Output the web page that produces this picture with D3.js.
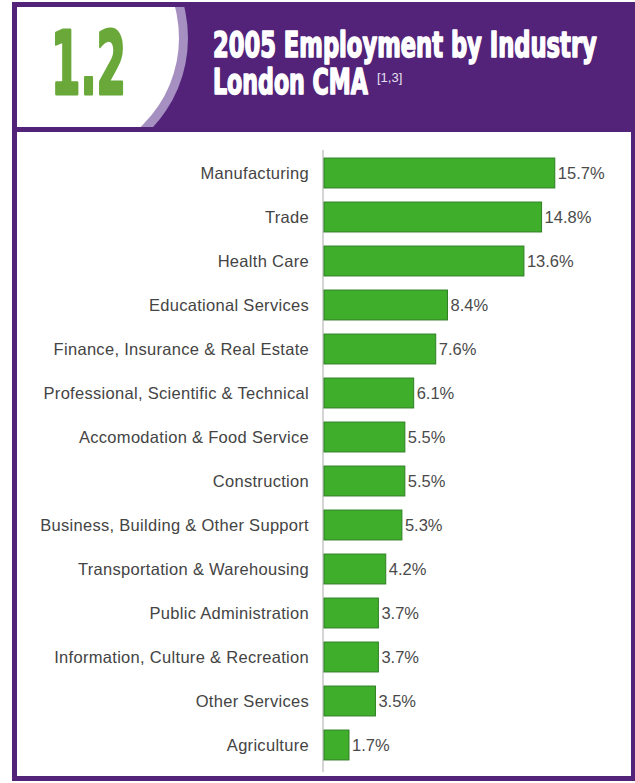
<!DOCTYPE html>
<html>
<head>
<meta charset="utf-8">
<script src="https://cdn.jsdelivr.net/npm/d3@7"></script>
<style>
  body { margin: 0; background: #fff; }
  svg { display: block; }
</style>
</head>
<body>
<div id="chart"></div>
<script>
const industries = [
  'Manufacturing', 'Trade', 'Health Care', 'Educational Services',
  'Finance, Insurance & Real Estate', 'Professional, Scientific & Technical',
  'Accomodation & Food Service', 'Construction', 'Business, Building & Other Support',
  'Transportation & Warehousing', 'Public Administration',
  'Information, Culture & Recreation', 'Other Services', 'Agriculture'
];
const shares = [15.7, 14.8, 13.6, 8.4, 7.6, 6.1, 5.5, 5.5, 5.3, 4.2, 3.7, 3.7, 3.5, 1.7];
const figureNumber = '1.2';
const titleLines = ['2005 Employment by Industry', 'London CMA'];
const footnote = '[1,3]';

const W = 635;
const H = 783;
const purple = '#53237a';
const lavender = '#a68fc1';
const green = '#3fae2b';
const condensed = '"DejaVu Sans Condensed", "DejaVu Sans", sans-serif';
const sans = '"Liberation Sans", Arial, sans-serif';

const svg = d3.select('#chart')
  .append('svg')
  .attr('width', W)
  .attr('height', H);

// frame + header band
svg.append('rect')
  .attr('x', 12).attr('y', 2)
  .attr('width', 623).attr('height', 779)
  .attr('fill', purple);

svg.append('rect')
  .attr('x', 17).attr('y', 132)
  .attr('width', 614).attr('height', 644)
  .attr('fill', '#fff');

// the rounded white panel with the figure number
svg.append('clipPath')
  .attr('id', 'panelClip')
  .append('rect')
  .attr('x', 17).attr('y', 7)
  .attr('width', 200).attr('height', 120);

const panel = svg.append('g').attr('clip-path', 'url(#panelClip)');
panel.append('circle')
  .attr('cx', 57).attr('cy', 38).attr('r', 131)
  .attr('fill', lavender);
panel.append('circle')
  .attr('cx', 57).attr('cy', 38).attr('r', 122)
  .attr('fill', '#fff');

// squeeze a heavy text horizontally so it spans the wanted width
const squeezed = (str, x0, y0, width, size, color, strokeW) => {
  const t = svg.append('text')
    .attr('font-family', condensed)
    .attr('font-weight', 'bold')
    .attr('font-size', size)
    .attr('fill', color)
    .attr('stroke', color)
    .attr('stroke-width', strokeW)
    .attr('stroke-linejoin', 'round')
    .text(str);
  const natural = t.node().getComputedTextLength();
  t.attr('transform', `translate(${x0},${y0}) scale(${width / natural},1)`);
  return t;
};

squeezed(figureNumber, 51, 94, 75, 88, '#6aa83a', 3);
squeezed(titleLines[0], 213, 57, 384, 35, '#fff', 1.6);
squeezed(titleLines[1], 213, 94, 155, 35, '#fff', 1.6);

svg.append('text')
  .attr('x', 377).attr('y', 82)
  .attr('font-family', sans)
  .attr('font-size', 13)
  .attr('fill', '#e6e0ee')
  .text(footnote);

// bars
const x = d3.scaleLinear()
  .domain([0, 16])
  .range([324, 324 + 16 * 14.7]);

const y = d3.scaleBand()
  .domain(industries)
  .range([151, 767])
  .paddingInner(0.32)
  .paddingOuter(0.16);

svg.append('line')
  .attr('x1', x(0) - 1).attr('x2', x(0) - 1)
  .attr('y1', 150).attr('y2', 772)
  .attr('stroke', '#aaa')
  .attr('stroke-width', 1);

const rows = svg.selectAll('.row')
  .data(industries)
  .enter()
  .append('g')
  .attr('class', 'row');

rows.append('rect')
  .attr('x', x(0))
  .attr('y', (d) => y(d))
  .attr('width', (d, i) => x(shares[i]) - x(0))
  .attr('height', y.bandwidth())
  .attr('fill', green)
  .attr('stroke', '#2f7f24')
  .attr('stroke-width', 1);

rows.append('text')
  .attr('x', 309)
  .attr('y', (d) => y(d) + y.bandwidth() / 2)
  .attr('dy', '0.36em')
  .attr('text-anchor', 'end')
  .attr('font-family', sans)
  .attr('font-size', 16.5)
  .attr('letter-spacing', 0.3)
  .attr('fill', '#444')
  .text((d) => d);

rows.append('text')
  .attr('x', (d, i) => x(shares[i]) + 3)
  .attr('y', (d) => y(d) + y.bandwidth() / 2)
  .attr('dy', '0.36em')
  .attr('font-family', sans)
  .attr('font-size', 16.5)
  .attr('fill', '#4a4a4a')
  .text((d, i) => `${shares[i]}%`);
</script>
</body>
</html>
